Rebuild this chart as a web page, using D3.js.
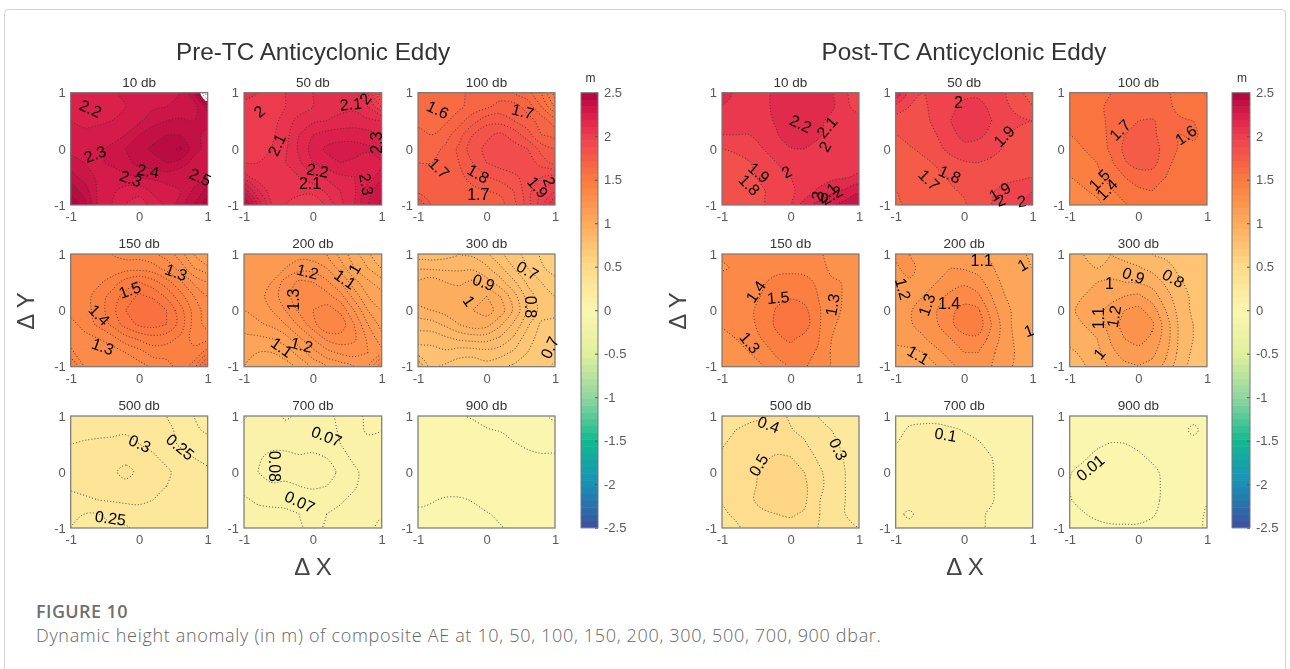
<!DOCTYPE html>
<html>
<head>
<meta charset="utf-8">
<script src="https://d3js.org/d3.v7.min.js"></script>
<style>
html, body { margin: 0; padding: 0; background: #fff; overflow: hidden; }
svg { display: block; }
.tick text { font-family: "Liberation Sans", Arial, sans-serif; }
</style>
</head>
<body>
<div id="js_chart"></div>
<script>
// grids: rows run from dY = 1 down to dY = -1, columns from dX = -1 to dX = 1
const pre10 = [
[2.24,2.24,2.23,2.24,2.26,2.27,2.27,2.28,2.30,2.38,2.65],
[2.24,2.22,2.22,2.24,2.25,2.27,2.29,2.30,2.31,2.33,2.42],
[2.25,2.24,2.24,2.25,2.27,2.29,2.33,2.35,2.36,2.35,2.36],
[2.26,2.26,2.27,2.28,2.30,2.35,2.38,2.40,2.40,2.36,2.34],
[2.28,2.28,2.29,2.31,2.35,2.38,2.41,2.43,2.46,2.37,2.33],
[2.32,2.30,2.29,2.31,2.33,2.37,2.38,2.40,2.38,2.33,2.32],
[2.37,2.33,2.29,2.27,2.29,2.30,2.31,2.32,2.30,2.32,2.35],
[2.43,2.38,2.29,2.26,2.23,2.22,2.26,2.28,2.30,2.36,2.42],
[2.49,2.42,2.28,2.25,2.20,2.17,2.22,2.26,2.32,2.40,2.48]];
const pre50 = [
[2.06,2.05,2.04,2.05,2.08,2.10,2.12,2.13,2.12,2.05,1.85],
[2.04,2.02,2.03,2.05,2.07,2.10,2.12,2.14,2.14,2.10,2.00],
[2.03,2.02,2.03,2.07,2.12,2.14,2.15,2.16,2.17,2.16,2.15],
[2.02,2.02,2.04,2.08,2.15,2.20,2.22,2.23,2.23,2.22,2.20],
[2.03,2.03,2.05,2.09,2.16,2.22,2.26,2.27,2.27,2.26,2.25],
[2.05,2.05,2.07,2.10,2.14,2.20,2.23,2.25,2.24,2.22,2.25],
[2.12,2.07,2.06,2.08,2.10,2.13,2.16,2.19,2.20,2.22,2.28],
[2.28,2.16,2.07,2.05,2.06,2.07,2.11,2.15,2.19,2.28,2.34],
[2.42,2.24,2.10,2.05,2.03,2.00,2.06,2.13,2.20,2.30,2.36]];
const pre100 = [
[1.63,1.62,1.62,1.64,1.66,1.67,1.67,1.65,1.62,1.55,1.42],
[1.63,1.60,1.60,1.64,1.67,1.69,1.72,1.72,1.68,1.60,1.50],
[1.64,1.62,1.64,1.68,1.73,1.78,1.78,1.75,1.72,1.68,1.62],
[1.66,1.65,1.68,1.73,1.80,1.84,1.86,1.83,1.77,1.70,1.68],
[1.68,1.68,1.71,1.76,1.83,1.86,1.87,1.87,1.85,1.78,1.75],
[1.70,1.70,1.71,1.75,1.80,1.85,1.87,1.88,1.88,1.83,1.78],
[1.72,1.70,1.70,1.73,1.78,1.80,1.82,1.84,1.87,1.90,1.92],
[1.73,1.71,1.70,1.71,1.73,1.75,1.76,1.80,1.88,1.95,2.00],
[1.85,1.74,1.72,1.71,1.70,1.72,1.73,1.78,1.87,1.98,2.10]];
const pre150 = [
[1.37,1.36,1.35,1.35,1.33,1.33,1.31,1.28,1.22,1.15,1.10],
[1.38,1.37,1.36,1.37,1.38,1.38,1.37,1.33,1.28,1.20,1.16],
[1.37,1.38,1.39,1.42,1.47,1.50,1.47,1.42,1.36,1.29,1.25],
[1.36,1.38,1.42,1.47,1.52,1.56,1.54,1.49,1.42,1.35,1.30],
[1.37,1.38,1.42,1.48,1.55,1.60,1.60,1.55,1.47,1.38,1.32],
[1.33,1.37,1.41,1.46,1.52,1.56,1.57,1.55,1.48,1.38,1.33],
[1.33,1.33,1.35,1.38,1.43,1.46,1.48,1.47,1.44,1.38,1.38],
[1.36,1.32,1.32,1.32,1.35,1.38,1.42,1.42,1.42,1.42,1.47],
[1.45,1.35,1.32,1.30,1.30,1.33,1.36,1.38,1.42,1.47,1.65]];
const pre200 = [
[1.15,1.15,1.17,1.18,1.18,1.17,1.15,1.08,1.02,0.96,0.90],
[1.16,1.20,1.18,1.20,1.23,1.23,1.20,1.13,1.05,1.00,0.95],
[1.16,1.18,1.20,1.27,1.31,1.30,1.26,1.20,1.12,1.06,1.02],
[1.15,1.18,1.22,1.28,1.33,1.34,1.32,1.27,1.18,1.10,1.07],
[1.15,1.17,1.20,1.25,1.31,1.35,1.37,1.34,1.25,1.15,1.10],
[1.13,1.14,1.16,1.20,1.26,1.33,1.40,1.38,1.30,1.20,1.13],
[1.08,1.09,1.10,1.13,1.19,1.25,1.31,1.33,1.31,1.24,1.17],
[1.05,1.05,1.05,1.07,1.12,1.18,1.23,1.26,1.27,1.25,1.22],
[1.05,1.03,1.02,1.03,1.06,1.11,1.15,1.17,1.20,1.24,1.40]];
const pre300 = [
[0.82,0.82,0.83,0.85,0.84,0.81,0.76,0.72,0.68,0.64,0.60],
[0.89,0.89,0.89,0.89,0.89,0.86,0.81,0.75,0.70,0.66,0.62],
[0.96,0.98,0.95,0.94,0.96,0.92,0.87,0.81,0.74,0.70,0.67],
[0.98,0.99,0.98,0.98,0.99,1.00,0.95,0.87,0.78,0.72,0.70],
[0.93,0.95,0.97,0.99,1.00,1.02,0.98,0.89,0.80,0.73,0.72],
[0.87,0.88,0.91,0.95,0.98,0.97,0.91,0.84,0.76,0.69,0.68],
[0.82,0.82,0.84,0.86,0.87,0.87,0.84,0.79,0.72,0.68,0.66],
[0.77,0.78,0.79,0.77,0.77,0.78,0.77,0.74,0.70,0.67,0.65],
[0.90,0.76,0.74,0.72,0.71,0.73,0.71,0.69,0.66,0.66,0.72]];
const pre500 = [
[0.27,0.27,0.27,0.27,0.27,0.27,0.26,0.25,0.22,0.20,0.19],
[0.285,0.285,0.285,0.29,0.295,0.285,0.275,0.26,0.24,0.21,0.19],
[0.30,0.305,0.31,0.31,0.31,0.30,0.285,0.265,0.245,0.235,0.22],
[0.305,0.31,0.31,0.315,0.32,0.32,0.31,0.285,0.265,0.25,0.235],
[0.305,0.31,0.315,0.33,0.38,0.33,0.32,0.31,0.28,0.27,0.26],
[0.305,0.31,0.315,0.32,0.32,0.32,0.315,0.30,0.28,0.27,0.27],
[0.29,0.295,0.30,0.305,0.31,0.31,0.30,0.29,0.28,0.28,0.28],
[0.26,0.25,0.25,0.26,0.27,0.28,0.28,0.28,0.28,0.28,0.28],
[0.25,0.24,0.24,0.245,0.245,0.26,0.27,0.28,0.28,0.27,0.28]];
const pre700 = [
[0.068,0.075,0.075,0.068,0.072,0.072,0.072,0.068,0.063,0.058,0.060],
[0.075,0.076,0.076,0.075,0.075,0.075,0.073,0.069,0.065,0.058,0.060],
[0.075,0.076,0.078,0.077,0.077,0.075,0.073,0.070,0.066,0.064,0.063],
[0.075,0.079,0.082,0.083,0.081,0.083,0.080,0.074,0.068,0.066,0.064],
[0.075,0.080,0.083,0.082,0.084,0.085,0.084,0.078,0.072,0.066,0.063],
[0.074,0.077,0.079,0.079,0.080,0.082,0.080,0.079,0.071,0.066,0.064],
[0.068,0.072,0.073,0.073,0.073,0.073,0.072,0.071,0.068,0.066,0.066],
[0.062,0.066,0.067,0.068,0.070,0.071,0.070,0.068,0.067,0.067,0.069],
[0.062,0.062,0.064,0.066,0.069,0.072,0.069,0.067,0.067,0.068,0.072]];
const pre900 = [
[0.012,0.012,0.012,0.0105,0.0095,0.009,0.009,0.009,0.009,0.0095,0.0105],
[0.012,0.012,0.012,0.012,0.0115,0.0102,0.0098,0.009,0.009,0.009,0.009],
[0.012,0.012,0.012,0.012,0.012,0.012,0.0115,0.0102,0.0095,0.009,0.009],
[0.012,0.012,0.012,0.012,0.012,0.012,0.012,0.0115,0.0108,0.0105,0.0105],
[0.012,0.012,0.012,0.012,0.012,0.012,0.012,0.012,0.012,0.012,0.012],
[0.012,0.012,0.012,0.012,0.012,0.012,0.012,0.012,0.012,0.012,0.012],
[0.0105,0.0103,0.0095,0.0095,0.0102,0.011,0.012,0.012,0.012,0.012,0.012],
[0.0095,0.009,0.009,0.009,0.009,0.0098,0.0105,0.012,0.012,0.012,0.012],
[0.009,0.009,0.009,0.009,0.009,0.009,0.0098,0.0105,0.012,0.012,0.012]];
const post10 = [
[2.22,2.06,2.05,2.06,2.13,2.17,2.15,2.13,2.11,2.02,1.90],
[2.08,2.05,2.04,2.07,2.13,2.17,2.17,2.15,2.12,2.03,1.95],
[2.03,2.03,2.03,2.05,2.12,2.20,2.20,2.13,2.07,2.05,2.04],
[2.00,2.00,2.00,2.02,2.09,2.19,2.19,2.12,2.05,2.06,2.05],
[1.90,1.92,1.97,2.00,2.04,2.09,2.10,2.06,2.03,2.03,2.04],
[1.85,1.86,1.89,1.97,2.00,2.03,2.04,2.03,2.04,2.05,2.05],
[1.80,1.84,1.87,1.93,1.97,2.00,2.01,2.03,2.07,2.09,2.12],
[1.83,1.85,1.86,1.89,1.96,1.99,2.02,2.12,2.18,2.22,2.28],
[1.83,1.85,1.87,1.89,1.95,1.98,2.15,2.23,2.28,2.34,2.40]];
const post50 = [
[2.20,1.95,1.90,1.92,1.96,1.98,1.98,1.93,1.90,1.85,1.68],
[1.95,1.90,1.89,1.92,1.98,2.02,2.03,1.98,1.92,1.86,1.82],
[1.85,1.87,1.88,1.92,2.00,2.06,2.05,2.00,1.93,1.92,1.90],
[1.80,1.83,1.86,1.90,1.97,2.03,2.02,1.98,1.91,1.87,1.86],
[1.77,1.79,1.82,1.87,1.93,1.97,1.96,1.93,1.89,1.86,1.85],
[1.74,1.75,1.78,1.81,1.86,1.89,1.90,1.88,1.86,1.85,1.85],
[1.72,1.74,1.75,1.78,1.81,1.83,1.84,1.85,1.87,1.88,1.89],
[1.70,1.70,1.72,1.76,1.79,1.81,1.83,1.89,1.93,1.96,2.00],
[1.68,1.72,1.74,1.76,1.78,1.79,1.84,1.90,1.97,2.00,2.10]];
const post100 = [
[1.55,1.52,1.54,1.60,1.60,1.62,1.60,1.62,1.55,1.54,1.48],
[1.55,1.55,1.58,1.62,1.64,1.63,1.63,1.62,1.58,1.58,1.55],
[1.52,1.54,1.57,1.62,1.66,1.70,1.71,1.66,1.61,1.60,1.58],
[1.50,1.52,1.56,1.62,1.70,1.73,1.73,1.64,1.60,1.62,1.56],
[1.47,1.50,1.53,1.62,1.72,1.77,1.76,1.65,1.59,1.57,1.55],
[1.44,1.46,1.50,1.58,1.69,1.74,1.74,1.63,1.56,1.56,1.55],
[1.40,1.43,1.48,1.53,1.60,1.65,1.65,1.60,1.56,1.54,1.54],
[1.36,1.39,1.42,1.49,1.54,1.58,1.60,1.57,1.52,1.56,1.54],
[1.34,1.36,1.38,1.43,1.49,1.54,1.55,1.53,1.52,1.53,1.52]];
const post150 = [
[1.31,1.30,1.31,1.33,1.34,1.35,1.35,1.32,1.26,1.27,1.26],
[1.29,1.31,1.33,1.35,1.37,1.38,1.38,1.36,1.27,1.28,1.27],
[1.33,1.33,1.35,1.39,1.43,1.43,1.42,1.39,1.32,1.29,1.27],
[1.34,1.34,1.36,1.41,1.47,1.49,1.46,1.40,1.33,1.29,1.28],
[1.34,1.35,1.38,1.44,1.51,1.54,1.53,1.42,1.32,1.29,1.28],
[1.31,1.34,1.37,1.44,1.52,1.56,1.55,1.42,1.31,1.28,1.28],
[1.27,1.30,1.34,1.41,1.48,1.52,1.47,1.41,1.30,1.28,1.27],
[1.27,1.26,1.30,1.35,1.42,1.45,1.43,1.39,1.29,1.27,1.26],
[1.27,1.27,1.27,1.30,1.36,1.41,1.41,1.36,1.29,1.27,1.26]];
const post200 = [
[1.22,1.20,1.18,1.17,1.16,1.14,1.11,1.08,1.04,1.02,0.98],
[1.18,1.25,1.14,1.18,1.20,1.19,1.16,1.11,1.05,1.03,1.00],
[1.18,1.18,1.18,1.20,1.26,1.28,1.24,1.15,1.07,1.05,1.03],
[1.16,1.17,1.20,1.27,1.32,1.36,1.32,1.20,1.10,1.06,1.04],
[1.17,1.19,1.24,1.30,1.38,1.43,1.42,1.25,1.12,1.07,1.04],
[1.17,1.19,1.23,1.29,1.38,1.46,1.46,1.30,1.14,1.05,1.00],
[1.13,1.15,1.19,1.24,1.30,1.37,1.38,1.26,1.15,1.06,1.04],
[1.06,1.07,1.10,1.18,1.23,1.30,1.30,1.22,1.14,1.08,1.06],
[1.03,1.03,1.05,1.10,1.18,1.23,1.26,1.20,1.12,1.08,1.07]];
const post300 = [
[0.92,0.90,0.89,0.90,0.87,0.84,0.80,0.78,0.76,0.75,0.78],
[0.94,0.92,0.90,0.93,0.93,0.91,0.87,0.83,0.78,0.76,0.76],
[0.95,0.95,1.00,1.02,1.00,0.99,0.96,0.88,0.81,0.77,0.76],
[0.96,1.00,1.05,1.07,1.10,1.12,1.05,0.94,0.84,0.78,0.75],
[0.98,1.03,1.07,1.13,1.20,1.23,1.15,1.00,0.86,0.78,0.75],
[0.96,1.00,1.05,1.14,1.24,1.27,1.22,1.05,0.88,0.80,0.76],
[0.93,0.96,1.00,1.11,1.20,1.24,1.18,1.05,0.88,0.80,0.77],
[0.88,0.92,0.97,1.08,1.13,1.16,1.13,1.02,0.87,0.78,0.76],
[0.86,0.89,0.94,1.02,1.08,1.10,1.06,0.97,0.83,0.77,0.74]];
const post500 = [
[0.36,0.37,0.38,0.39,0.42,0.39,0.36,0.30,0.27,0.25,0.24],
[0.38,0.40,0.42,0.44,0.42,0.405,0.38,0.33,0.30,0.26,0.25],
[0.39,0.43,0.45,0.47,0.47,0.44,0.41,0.36,0.32,0.28,0.26],
[0.42,0.45,0.47,0.49,0.51,0.505,0.45,0.39,0.35,0.29,0.27],
[0.43,0.46,0.48,0.51,0.53,0.53,0.50,0.42,0.36,0.30,0.27],
[0.42,0.45,0.48,0.52,0.54,0.55,0.52,0.43,0.36,0.30,0.27],
[0.41,0.44,0.49,0.52,0.55,0.56,0.52,0.41,0.35,0.30,0.27],
[0.38,0.42,0.46,0.49,0.50,0.51,0.49,0.41,0.34,0.30,0.26],
[0.36,0.38,0.43,0.46,0.47,0.47,0.44,0.40,0.34,0.31,0.30]];
const post700 = [
[0.090,0.095,0.095,0.095,0.090,0.090,0.090,0.090,0.085,0.080,0.080],
[0.095,0.102,0.104,0.104,0.103,0.099,0.095,0.090,0.085,0.080,0.080],
[0.100,0.105,0.105,0.106,0.107,0.105,0.102,0.095,0.090,0.080,0.080],
[0.105,0.106,0.107,0.108,0.108,0.107,0.104,0.1005,0.090,0.080,0.080],
[0.106,0.107,0.108,0.109,0.109,0.108,0.106,0.102,0.090,0.080,0.080],
[0.106,0.107,0.108,0.109,0.109,0.108,0.106,0.102,0.090,0.080,0.080],
[0.105,0.106,0.107,0.108,0.108,0.107,0.106,0.102,0.090,0.080,0.080],
[0.103,0.098,0.105,0.107,0.107,0.106,0.104,0.097,0.090,0.080,0.080],
[0.103,0.104,0.105,0.106,0.106,0.105,0.103,0.097,0.090,0.080,0.080]];
const post900 = [
[0.009,0.009,0.009,0.009,0.009,0.009,0.009,0.009,0.009,0.009,0.009],
[0.009,0.009,0.009,0.009,0.009,0.009,0.009,0.009,0.009,0.0106,0.009],
[0.009,0.009,0.0097,0.0101,0.01005,0.0096,0.009,0.009,0.009,0.009,0.009],
[0.0094,0.0098,0.0105,0.0108,0.0108,0.0104,0.0097,0.009,0.009,0.009,0.009],
[0.0099,0.0105,0.011,0.011,0.011,0.011,0.0105,0.0095,0.009,0.009,0.009],
[0.0101,0.0107,0.011,0.011,0.011,0.011,0.0106,0.0096,0.009,0.009,0.0095],
[0.0099,0.0105,0.0108,0.011,0.011,0.011,0.0105,0.0096,0.009,0.009,0.0098],
[0.0094,0.0099,0.0104,0.0107,0.0108,0.0107,0.0102,0.0094,0.009,0.009,0.0103],
[0.009,0.0092,0.0095,0.0097,0.0097,0.0097,0.0095,0.0092,0.009,0.0095,0.0102]];

const depths = ["10 db", "50 db", "100 db", "150 db", "200 db", "300 db", "500 db", "700 db", "900 db"];
const preGrids = [pre10, pre50, pre100, pre150, pre200, pre300, pre500, pre700, pre900];
const postGrids = [post10, post50, post100, post150, post200, post300, post500, post700, post900];
const preSteps = [0.05, 0.05, 0.05, 0.05, 0.05, 0.05, 0.05, 0.01, 0.01];
const postSteps = [0.1, 0.1, 0.1, 0.1, 0.1, 0.1, 0.1, 0.1, 0.01];
const axisTicks = [-1, 0, 1];
const barTicks = [-2.5, -2, -1.5, -1, -0.5, 0, 0.5, 1, 1.5, 2, 2.5];
const colorValues = [-2.5, -2, -1.5, -1, -0.5, 0, 0.5, 1, 1.5, 2, 2.25, 2.5];
const colorStops = ["#3d4f9e", "#1a8fb8", "#12b98f", "#90d6a0", "#e0f09c", "#fbf6af", "#fedb8a", "#fdab5c", "#fb7a3e", "#ee3e50", "#d91e4a", "#ae043f"];

// contour labels: [text, dX, dY]
const preLabels = [
  [["2.2",-.71,.72],["2.3",-.645,-.09],["2.4",.13,-.39],["2.3",-.12,-.525],["2.5",.89,-.5]],
  [["2",-.78,.67],["2.1",-.525,.07],["2.1",.55,.8],["2",.76,.9],["2.2",.07,-.38],["2.1",-.04,-.61],["2.3",.92,.11],["2.3",.78,-.63]],
  [["1.6",-.71,.7],["1.7",.53,.67],["1.7",-.69,-.34],["1.8",-.12,-.44],["1.7",-.12,-.8],["1.9",.75,-.68],["2",.92,-.58]],
  [["1.3",.54,.68],["1.5",-.14,.365],["1.4",-.58,-.08],["1.3",-.53,-.64]],
  [["1.2",-.075,.69],["1.1",.47,.555],["1",.6,.74],["1.3",-.28,.19],["1.1",-.45,-.655],["1.2",-.16,-.61]],
  [["0.7",.6,.71],["0.9",-.04,.5],["1",-.25,.17],["0.8",.64,.06],["0.7",.92,-.66]],
  [["0.3",.01,.51],["0.25",.6,.45],["0.25",-.42,-.82]],
  [["0.07",.2,.64],["0.08",-.55,.1],["0.07",-.19,-.53]],
  []
];
const postLabels = [
  [["2.2",.15,.45],["2.1",.53,.39],["2",.5,.04],["1.9",-.46,-.42],["2",-.06,-.41],["1.8",-.6,-.64],["2.1",.53,-.78],["2",.39,-.84],["2.2",.6,-.82]],
  [["2",-.085,.83],["1.9",.58,.23],["1.8",-.21,-.45],["1.7",-.51,-.55],["1.9",.52,-.76],["2",.53,-.91],["2",.84,-.93]],
  [["1.7",-.27,.34],["1.6",.69,.25],["1.5",-.57,-.55],["1.4",-.46,-.72]],
  [["1.4",-.51,.335],["1.5",-.18,.23],["1.3",.61,.1],["1.3",-.59,-.57]],
  [["1.1",.255,.89],["1",.85,.81],["1.2",-.89,.38],["1.3",-.55,.1],["1.4",-.22,.12],["1",.94,-.36],["1.1",-.67,-.79]],
  [["1",-.42,.48],["0.9",-.07,.62],["0.8",.51,.57],["1.1",-.58,-.14],["1.2",-.36,-.11],["1",-.57,-.77]],
  [["0.4",-.32,.85],["0.5",-.47,.125],["0.3",.7,.41]],
  [["0.1",-.27,.67]],
  [["0.01",-.7,.08]]
];
// label rotation in degrees, same order as the labels above
const preAngles = [
  [25,-20,10,20,25], [-40,-65,-5,-50,10,0,-90,80], [25,15,45,30,0,50,70],
  [20,-20,45,20], [15,35,-60,-90,35,15], [30,20,55,90,-65], [25,40,8], [22,90,25], []
];
const postAngles = [
  [25,-50,-60,40,-30,45,-40,-70,-30], [0,-45,25,45,-30,-20,-10], [-45,-35,-45,-45],
  [-55,-5,-80,50], [0,-30,75,-70,0,-20,30], [0,20,30,-90,-80,-50], [20,-60,65], [10], [-40]
];

const sansFont = '"Liberation Sans", Arial, sans-serif';

const svg = d3.select("#js_chart").append("svg")
    .attr("width", 1290)
    .attr("height", 669);

// card outline
svg.append("rect")
    .attr("x", 4.5).attr("y", 9.5)
    .attr("width", 1281).attr("height", 700)
    .attr("rx", 4)
    .attr("fill", "#fff")
    .attr("stroke", "#d4d4d4");

const chart = svg.append("g").style("filter", "blur(0.4px)");

const colorValue = d3.scaleLinear()
    .domain(colorValues)
    .range(colorStops)
    .clamp(true);

drawBlock({
  title: "Pre-TC Anticyclonic Eddy", titleX: 313,
  cols: [[70.7, 207.7], [244, 381.7], [418, 555]],
  grids: preGrids, steps: preSteps, labels: preLabels, angles: preAngles,
  barX: [581, 598], yLabelX: 34, xLabelX: 313
});
drawBlock({
  title: "Post-TC Anticyclonic Eddy", titleX: 964,
  cols: [[722, 859], [895.7, 1032.7], [1069.7, 1207]],
  grids: postGrids, steps: postSteps, labels: postLabels, angles: postAngles,
  barX: [1232, 1250], yLabelX: 686, xLabelX: 965
});

// caption
svg.append("text").attr("x", 36).attr("y", 618)
    .style("font", '600 18px "Open Sans", sans-serif').style("letter-spacing", "0.4px").attr("fill", "#6f6f6f")
    .text("FIGURE 10");
svg.append("text").attr("x", 36).attr("y", 642)
    .style("font", '300 18px "Open Sans", sans-serif').style("letter-spacing", "0.68px").attr("fill", "#666")
    .text("Dynamic height anomaly (in m) of composite AE at 10, 50, 100, 150, 200, 300, 500, 700, 900 dbar.");

function drawBlock(block) {
  const rows = [[92.7, 205], [254, 366.7], [416, 528]];

  chart.append("text")
      .attr("x", block.titleX).attr("y", 60)
      .attr("text-anchor", "middle")
      .style("font", "24.3px " + sansFont).attr("fill", "#333")
      .text(block.title);

  chart.append("text")
      .attr("x", block.xLabelX).attr("y", 575)
      .attr("text-anchor", "middle")
      .style("font", "24px " + sansFont).attr("fill", "#444")
      .text("\u0394 X");

  chart.append("text")
      .attr("transform", "translate(" + block.yLabelX + ",311) rotate(-90)")
      .attr("text-anchor", "middle")
      .style("font", "24px " + sansFont).attr("fill", "#444")
      .text("\u0394 Y");

  depths.forEach(function (depth, i) {
    drawPanel(block, i, block.cols[i % 3], rows[Math.floor(i / 3)]);
  });

  drawColorBar(block.barX, [92.7, 527.7]);
}

function drawPanel(block, i, xRange, yRange) {
  const grid = block.grids[i];
  const step = block.steps[i];
  const nRows = grid.length, nCols = grid[0].length;
  const values = grid.flat();

  const x = d3.scaleLinear().domain([-1, 1]).range(xRange);
  const y = d3.scaleLinear().domain([-1, 1]).range([yRange[1], yRange[0]]);
  // d3.contours puts grid node k at k + 0.5
  const colToX = d3.scaleLinear().domain([0.5, nCols - 0.5]).range([-1, 1]);
  const rowToY = d3.scaleLinear().domain([0.5, nRows - 0.5]).range([1, -1]);

  const first = Math.floor(d3.min(values) / step + 1e-6);
  const last = Math.ceil(d3.max(values) / step - 1e-6);
  const levels = d3.range(first, last).map(k => +(k * step).toFixed(4));

  const contours = d3.contours().size([nCols, nRows]).thresholds(levels)(values);

  const ringLine = d3.line()
      .x(p => x(colToX(p[0])))
      .y(p => y(rowToY(p[1])))
      .curve(d3.curveCatmullRomClosed.alpha(0.5));

  const ringsPath = function (c) {
    return c.coordinates.map(poly => poly.map(ring => ringLine(ring.slice(0, -1))).join("")).join("");
  };

  const panel = chart.append("g");
  const clipId = "clip-" + block.title.slice(0, 3) + "-" + i;
  panel.append("clipPath").attr("id", clipId)
    .append("rect")
      .attr("x", xRange[0]).attr("y", yRange[0])
      .attr("width", xRange[1] - xRange[0]).attr("height", yRange[1] - yRange[0]);

  const plot = panel.append("g").attr("clip-path", "url(#" + clipId + ")");

  const fillOf = function (level) {
    return level >= 2.5 ? "#fff" : colorValue(level + step / 2);
  };

  plot.selectAll("path.band")
    .data(contours)
    .enter().append("path")
      .attr("class", "band")
      .attr("fill", d => fillOf(d.value))
      .attr("fill-rule", "evenodd")
      .attr("d", ringsPath);

  plot.selectAll("path.line")
    .data(contours.slice(1))
    .enter().append("path")
      .attr("class", "line")
      .attr("fill", "none")
      .attr("stroke", "#333")
      .attr("stroke-width", 1)
      .attr("stroke-linecap", "round")
      .attr("stroke-dasharray", "0.1 3")
      .attr("d", ringsPath);

  panel.append("g")
      .attr("transform", "translate(" + xRange[0] + ",0)")
      .call(d3.axisLeft(y).tickValues(axisTicks).tickFormat(String).tickSize(0).tickPadding(5))
      .call(styleAxis);

  panel.append("g")
      .attr("transform", "translate(0," + yRange[1] + ")")
      .call(d3.axisBottom(x).tickValues(axisTicks).tickFormat(String).tickSize(0).tickPadding(7))
      .call(styleAxis);

  panel.append("rect")
      .attr("x", xRange[0]).attr("y", yRange[0])
      .attr("width", xRange[1] - xRange[0]).attr("height", yRange[1] - yRange[0])
      .attr("fill", "none")
      .attr("stroke", "#777")
      .attr("stroke-width", 1.2);

  panel.append("text")
      .attr("x", (xRange[0] + xRange[1]) / 2).attr("y", yRange[0] - 6)
      .attr("text-anchor", "middle")
      .style("font", "13.5px " + sansFont).attr("fill", "#333")
      .text(depths[i]);

  panel.selectAll("text.clabel")
    .data(block.labels[i])
    .enter().append("text")
      .attr("class", "clabel")
      .attr("transform", (d, k) => "translate(" + x(d[1]) + "," + y(d[2]) + ") rotate(" + block.angles[i][k] + ")")
      .attr("text-anchor", "middle")
      .attr("dy", "0.36em")
      .style("font", "16px " + sansFont)
      .attr("fill", "#000")
      .text(d => d[0]);
}

function drawColorBar(xRange, yRange) {
  const y = d3.scaleLinear().domain([-2.5, 2.5]).range([yRange[1], yRange[0]]);
  const bands = 64;
  const bandSize = 5 / bands;

  const bar = chart.append("g");
  bar.selectAll("rect")
    .data(d3.range(bands))
    .enter().append("rect")
      .attr("x", xRange[0])
      .attr("width", xRange[1] - xRange[0])
      .attr("y", k => y(-2.5 + (k + 1) * bandSize))
      .attr("height", k => y(-2.5 + k * bandSize) - y(-2.5 + (k + 1) * bandSize) + 0.5)
      .attr("fill", k => colorValue(-2.5 + (k + 0.5) * bandSize));

  bar.append("g")
      .attr("transform", "translate(" + xRange[1] + ",0)")
      .call(d3.axisRight(y).tickValues(barTicks).tickFormat(d => String(d)).tickSizeInner(-3).tickSizeOuter(0).tickPadding(6))
      .call(styleAxis)
      .call(g => g.selectAll(".tick line").attr("stroke", "#555"));

  bar.append("rect")
      .attr("x", xRange[0]).attr("y", yRange[0])
      .attr("width", xRange[1] - xRange[0]).attr("height", yRange[1] - yRange[0])
      .attr("fill", "none")
      .attr("stroke", "#777")
      .attr("stroke-width", 1);

  bar.append("text")
      .attr("x", (xRange[0] + xRange[1]) / 2 + 1).attr("y", 82)
      .attr("text-anchor", "middle")
      .style("font", "12px " + sansFont).attr("fill", "#333")
      .text("m");
}

function styleAxis(g) {
  g.select(".domain").remove();
  g.selectAll(".tick text")
      .style("font-size", "13px")
      .attr("fill", "#5a5a5a");
}
</script>
</body>
</html>
